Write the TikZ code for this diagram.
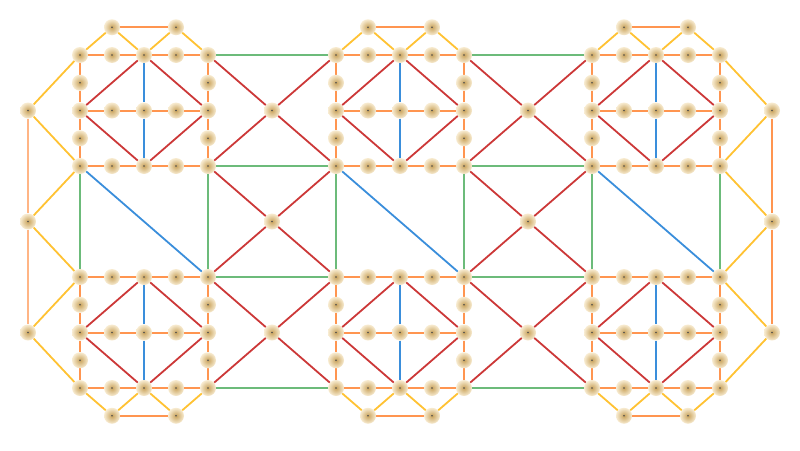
\documentclass[tikz,border=0pt]{standalone}
\usetikzlibrary{backgrounds}
\definecolor{cOr}{HTML}{FF9550}
\definecolor{cOrL}{HTML}{FFB585}
\definecolor{cYe}{HTML}{FFC233}
\definecolor{cRe}{HTML}{CC3838}
\definecolor{cBl}{HTML}{3A8EDB}
\definecolor{cGr}{HTML}{6CBB7A}
\definecolor{nIn}{HTML}{C9A35C}
\definecolor{nOut}{HTML}{F8ECD2}
\newcommand\myV[2]{\pgfmathtruncatemacro\va{#1}\pgfmathtruncatemacro\vb{#2}%
  \node[vx] (n\va-\vb) at ({80+32*\va},{55+27.75*(\vb-1)}) {};}
\newcommand\myE[5]{\pgfmathtruncatemacro\ea{#2}\pgfmathtruncatemacro\eb{#3}%
  \pgfmathtruncatemacro\ec{#4}\pgfmathtruncatemacro\ed{#5}%
  \draw[#1] (n\ea-\eb) -- (n\ec-\ed);}
\begin{document}
\begin{tikzpicture}[x=1pt,y=-1pt,
  vx/.style={circle,minimum size=16pt,inner sep=0pt,inner color=nIn,outer color=nOut,
    path picture={\fill[black!70] (path picture bounding box.center) circle (0.9pt);}},
  eor/.style={cOr,line width=2pt},
  eorl/.style={cOrL,line width=2.6pt},
  eye/.style={cYe,line width=1.8pt},
  ere/.style={cRe,line width=1.8pt},
  ebl/.style={cBl,line width=1.8pt},
  eblt/.style={cBl,line width=2.8pt},
  egr/.style={cGr,line width=2pt}]
\useasboundingbox (0,0) rectangle (800,450);
% nodes
\foreach \I in {0,8,16} {
  \foreach \J in {1,9} {
    \foreach \a in {0,...,4} { \foreach \b in {0,2,4} { \myV{\I+\a}{\J+\b} } }
    \foreach \a in {0,4} { \foreach \b in {1,3} { \myV{\I+\a}{\J+\b} } }
  }
  \foreach \r in {0,14} { \myV{\I+1}{\r} \myV{\I+3}{\r} }
}
\foreach \c in {6,14} { \foreach \r in {3,7,11} { \myV{\c}{\r} } }
\foreach \r in {3,7,11} {
  \node[vx] (nL-\r) at (28,{55+27.75*(\r-1)}) {};
  \node[vx] (nR-\r) at (772,{55+27.75*(\r-1)}) {};
}
% edges
\begin{scope}[on background layer]
\foreach \I in {0,8,16} {
  \foreach \J in {1,9} {
    \foreach \b in {0,2,4} { \foreach \a in {0,...,3} { \myE{eor}{\I+\a}{\J+\b}{\I+\a+1}{\J+\b} } }
    \foreach \a in {0,4} { \foreach \b in {0,...,3} { \myE{eor}{\I+\a}{\J+\b}{\I+\a}{\J+\b+1} } }
    \myE{ebl}{\I+2}{\J}{\I+2}{\J+2}
    \myE{ebl}{\I+2}{\J+2}{\I+2}{\J+4}
    \myE{ere}{\I+2}{\J}{\I}{\J+2}
    \myE{ere}{\I+2}{\J}{\I+4}{\J+2}
    \myE{ere}{\I}{\J+2}{\I+2}{\J+4}
    \myE{ere}{\I+4}{\J+2}{\I+2}{\J+4}
  }
  \myE{eye}{\I}{1}{\I+1}{0}
  \myE{eye}{\I+1}{0}{\I+2}{1}
  \myE{eye}{\I+2}{1}{\I+3}{0}
  \myE{eye}{\I+3}{0}{\I+4}{1}
  \myE{eor}{\I+1}{0}{\I+3}{0}
  \myE{eye}{\I}{13}{\I+1}{14}
  \myE{eye}{\I+1}{14}{\I+2}{13}
  \myE{eye}{\I+2}{13}{\I+3}{14}
  \myE{eye}{\I+3}{14}{\I+4}{13}
  \myE{eor}{\I+1}{14}{\I+3}{14}
}
\foreach \J in {1,9} {
  \myE{eblt}{10}{\J}{10}{\J+2}
  \myE{eblt}{10}{\J+2}{10}{\J+4}
}
\foreach \j in {1,5,9,13} { \myE{egr}{4}{\j}{8}{\j} \myE{egr}{12}{\j}{16}{\j} }
\foreach \i in {0,4,8,12,16,20} { \myE{egr}{\i}{5}{\i}{9} }
\foreach \i in {0,8,16} { \myE{ebl}{\i}{5}{\i+4}{9} }
\foreach \c in {6,14} { \foreach \r in {3,7,11} {
  \myE{ere}{\c}{\r}{\c-2}{\r-2}
  \myE{ere}{\c}{\r}{\c+2}{\r-2}
  \myE{ere}{\c}{\r}{\c-2}{\r+2}
  \myE{ere}{\c}{\r}{\c+2}{\r+2}
} }
\foreach \r in {3,7,11} {
  \pgfmathtruncatemacro\ra{\r-2}\pgfmathtruncatemacro\rb{\r+2}
  \draw[eye] (nL-\r) -- (n0-\ra);
  \draw[eye] (nL-\r) -- (n0-\rb);
  \draw[eye] (nR-\r) -- (n20-\ra);
  \draw[eye] (nR-\r) -- (n20-\rb);
}
\draw[eorl] (nL-3) -- (nL-7);
\draw[eorl] (nL-7) -- (nL-11);
\draw[eor,line width=2.6pt] (nR-3) -- (nR-7);
\draw[eor,line width=2.6pt] (nR-7) -- (nR-11);
\end{scope}
\end{tikzpicture}
\end{document}
